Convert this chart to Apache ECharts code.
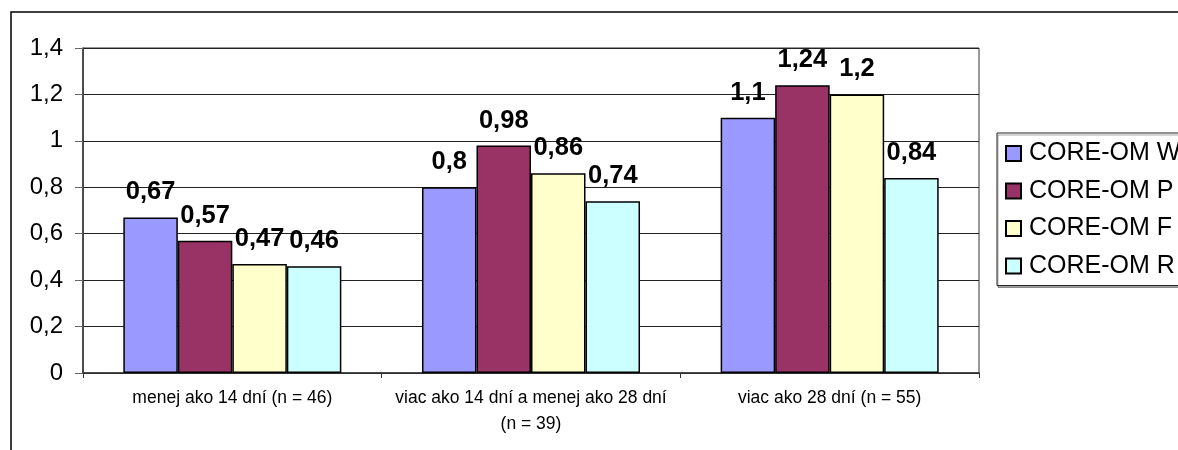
<!DOCTYPE html>
<html>
<head>
<meta charset="utf-8">
<script src="https://cdn.jsdelivr.net/npm/echarts@6/dist/echarts.min.js"></script>
<style>
  html, body { margin: 0; padding: 0; background: #fff; }
  #chart { width: 1178px; height: 450px; }
</style>
</head>
<body>
<div id="chart"></div>
<script>
// Duration groups (x axis)
const categories = [
  'menej ako 14 dní (n = 46)',
  'viac ako 14 dní a menej ako 28 dní\n(n = 39)',
  'viac ako 28 dní (n = 55)'
];
// Series names
const seriesNames = ['CORE-OM W', 'CORE-OM P', 'CORE-OM F', 'CORE-OM R'];
// Values per series, one per group
const valuesW = [0.67, 0.8, 1.1];
const valuesP = [0.57, 0.98, 1.24];
const valuesF = [0.47, 0.86, 1.2];
const valuesR = [0.46, 0.74, 0.84];
// Y axis range
const yMin = 0, yMax = 1.4, yStep = 0.2;

const colors = ['#9999FF', '#993366', '#FFFFCC', '#CCFFFF'];
const allValues = [valuesW, valuesP, valuesF, valuesR];
const comma = v => String(+v.toFixed(2)).replace('.', ',');
const FONT = 'Liberation Sans, Arial, sans-serif';

const chart = echarts.init(document.getElementById('chart'), null, { renderer: 'canvas' });

chart.setOption({
  animation: false,
  backgroundColor: '#fff',
  textStyle: { fontFamily: FONT },
  graphic: [{
    type: 'rect',
    z: -10,
    shape: { x: 11, y: 12, width: 1300, height: 600 },
    style: { fill: 'none', stroke: '#000', lineWidth: 1.5 }
  }],
  grid: {
    left: 83, top: 48, right: 199, bottom: 77,
    show: true, borderColor: '#333', borderWidth: 1, backgroundColor: '#fff'
  },
  legend: {
    orient: 'vertical',
    left: 997, top: 133,
    padding: [8, 40, 7, 8],
    itemGap: 12.5,
    itemWidth: 15, itemHeight: 15,
    icon: 'rect',
    borderColor: '#222', borderWidth: 1,
    shadowColor: 'rgba(0,0,0,0.35)', shadowOffsetX: 1, shadowOffsetY: 2,
    backgroundColor: '#fff',
    textStyle: { fontFamily: FONT, fontSize: 25, color: '#000', padding: [0, 0, 0, 3] },
    data: seriesNames
  },
  xAxis: {
    type: 'category',
    data: categories,
    axisLine: { lineStyle: { color: '#333', width: 1.5 } },
    axisTick: { show: true, length: 5, lineStyle: { color: '#333' } },
    axisLabel: { fontFamily: FONT, fontSize: 17.5, color: '#000', margin: 12, lineHeight: 26, interval: 0 }
  },
  yAxis: {
    type: 'value',
    min: yMin, max: yMax, interval: yStep,
    axisLine: { show: true, lineStyle: { color: '#333', width: 1.5 } },
    axisTick: { show: true, length: 8, lineStyle: { color: '#666' } },
    splitLine: { lineStyle: { color: '#222', width: 1 } },
    axisLabel: { fontFamily: FONT, fontSize: 24, color: '#000', margin: 20, formatter: v => comma(v) }
  },
  series: seriesNames.map((name, i) => ({
    name,
    type: 'bar',
    data: allValues[i],
    barGap: '0%',
    barCategoryGap: '27%',
    itemStyle: { color: colors[i], borderColor: '#000', borderWidth: 1.5 },
    label: {
      show: true,
      position: 'top',
      distance: 12,
      fontFamily: FONT,
      fontSize: 25.5,
      fontWeight: 'bold',
      color: '#000',
      formatter: p => comma(p.value)
    }
  }))
});
</script>
</body>
</html>
